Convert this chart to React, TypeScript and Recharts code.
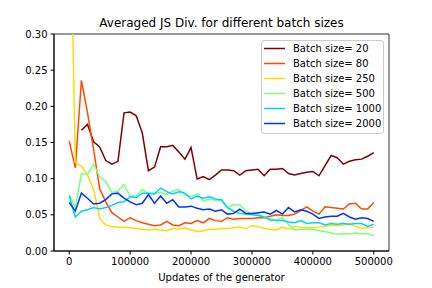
import React from 'react'
import { LineChart, Line, XAxis, YAxis, ReferenceArea, Legend } from 'recharts'

const updates = [
  0, 10000, 20000, 30000, 40000, 50000, 60000, 70000, 80000, 90000,
  100000, 110000, 120000, 130000, 140000, 150000, 160000, 170000, 180000, 190000,
  200000, 210000, 220000, 230000, 240000, 250000, 260000, 270000, 280000, 290000,
  300000, 310000, 320000, 330000, 340000, 350000, 360000, 370000, 380000, 390000,
  400000, 410000, 420000, 430000, 440000, 450000, 460000, 470000, 480000, 490000,
  500000,
]

// batch size 20 has no value for the first two checkpoints
const batch20 = [
  null, null, 0.167, 0.175, 0.151, 0.144, 0.125, 0.12, 0.124, 0.191,
  0.192, 0.187, 0.163, 0.111, 0.116, 0.144, 0.144, 0.146, 0.137, 0.127,
  0.143, 0.0995, 0.103, 0.0986, 0.105, 0.112, 0.112, 0.111, 0.105, 0.111,
  0.112, 0.113, 0.104, 0.113, 0.113, 0.114, 0.107, 0.105, 0.107, 0.109,
  0.11, 0.104, 0.118, 0.132, 0.129, 0.12, 0.124, 0.126, 0.127, 0.131,
  0.136,
]

const batch80 = [
  0.152, 0.115, 0.236, 0.191, 0.14, 0.086, 0.068, 0.053, 0.047, 0.041,
  0.046, 0.042, 0.039, 0.037, 0.035, 0.036, 0.041, 0.036, 0.035, 0.039,
  0.038, 0.042, 0.039, 0.045, 0.042, 0.041, 0.046, 0.044, 0.045, 0.045,
  0.045, 0.046, 0.046, 0.048, 0.05, 0.049, 0.049, 0.051, 0.056, 0.061,
  0.055, 0.051, 0.061, 0.06, 0.059, 0.058, 0.065, 0.066, 0.058, 0.058,
  0.067,
]

const batch250 = [
  0.56, 0.122, 0.117, 0.105, 0.085, 0.045, 0.036, 0.034, 0.033, 0.033,
  0.032, 0.031, 0.03, 0.029, 0.03, 0.029, 0.028, 0.031, 0.03, 0.032,
  0.029, 0.027, 0.028, 0.03, 0.03, 0.031, 0.031, 0.032, 0.033, 0.031,
  0.035, 0.034, 0.031, 0.03, 0.029, 0.033, 0.03, 0.034, 0.033, 0.032,
  0.032, 0.033, 0.034, 0.036, 0.035, 0.036, 0.0375, 0.034, 0.031, 0.032,
  0.033,
]

const batch500 = [
  0.078, 0.06, 0.107, 0.106, 0.12, 0.103, 0.096, 0.081, 0.083, 0.092,
  0.076, 0.076, 0.085, 0.079, 0.08, 0.081, 0.078, 0.083, 0.085, 0.078,
  0.075, 0.079, 0.069, 0.072, 0.07, 0.069, 0.06, 0.064, 0.064, 0.055,
  0.051, 0.051, 0.047, 0.045, 0.043, 0.046, 0.037, 0.029, 0.03, 0.03,
  0.03, 0.028, 0.027, 0.025, 0.023, 0.024, 0.024, 0.025, 0.024, 0.024,
  0.021,
]

const batch1000 = [
  0.076, 0.047, 0.055, 0.057, 0.06, 0.058, 0.06, 0.063, 0.067, 0.068,
  0.075, 0.074, 0.08, 0.08, 0.079, 0.087, 0.082, 0.079, 0.082, 0.08,
  0.072, 0.076, 0.073, 0.075, 0.072, 0.071, 0.06, 0.055, 0.052, 0.051,
  0.05, 0.049, 0.047, 0.043, 0.042, 0.042, 0.04, 0.039, 0.042, 0.038,
  0.039, 0.039, 0.036, 0.038, 0.037, 0.038, 0.037, 0.038, 0.038, 0.034,
  0.037,
]

const batch2000 = [
  0.067, 0.055, 0.08, 0.073, 0.065, 0.066, 0.071, 0.079, 0.08, 0.073,
  0.068, 0.064, 0.066, 0.078, 0.066, 0.076, 0.066, 0.071, 0.061, 0.061,
  0.062, 0.059, 0.057, 0.058, 0.055, 0.057, 0.051, 0.052, 0.058, 0.052,
  0.052, 0.053, 0.054, 0.051, 0.056, 0.051, 0.06, 0.054, 0.057, 0.055,
  0.051, 0.045, 0.047, 0.048, 0.048, 0.052, 0.047, 0.044, 0.046, 0.045,
  0.041,
]

const seriesKeys = ['b20', 'b80', 'b250', 'b500', 'b1000', 'b2000']
const seriesNames = [
  'Batch size= 20',
  'Batch size= 80',
  'Batch size= 250',
  'Batch size= 500',
  'Batch size= 1000',
  'Batch size= 2000',
]
const seriesColors = ['#800000', '#ff4a00', '#ffdc00', '#7dff7a', '#00d2ff', '#0035ff']

const xTicks = [0, 100000, 200000, 300000, 400000, 500000]
const yTicks = [0, 0.05, 0.1, 0.15, 0.2, 0.25, 0.3]

const allSeries = [batch20, batch80, batch250, batch500, batch1000, batch2000]

const data = updates.map((u, i) => {
  const row: Record<string, number | null> = { updates: u }
  seriesKeys.forEach((k, s) => {
    row[k] = allSeries[s][i]
  })
  return row
})

const font = 'DejaVu Sans, sans-serif'

// keep the legend in plotting order (recharts would sort the payload)
function LegendBox() {
  return (
    <div
      style={{
        border: '1px solid #cccccc',
        borderRadius: 3,
        background: 'rgba(255,255,255,0.8)',
        width: 123,
        paddingBottom: 2,
        fontFamily: font,
        fontSize: 10,
        color: '#000',
        boxSizing: 'border-box',
      }}
    >
      {seriesNames.map((name, s) => (
        <div key={name} style={{ height: 15, display: 'flex', alignItems: 'center' }}>
          <svg width={23} height={15} style={{ display: 'block' }}>
            <line x1={2} x2={23} y1={7.5} y2={7.5} stroke={seriesColors[s]} strokeWidth={1.5} />
          </svg>
          <span style={{ marginLeft: 8, whiteSpace: 'nowrap' }}>{name}</span>
        </div>
      ))}
    </div>
  )
}

export default function App() {
  return (
    <div style={{ position: 'absolute', left: 0, top: 0, width: 432, height: 288, background: '#fff', fontFamily: font }}>
      <div
        style={{
          position: 'absolute',
          left: 54,
          width: 335,
          top: 16,
          textAlign: 'center',
          fontSize: 12,
          color: '#000',
        }}
      >
        Averaged JS Div. for different batch sizes
      </div>
      <LineChart
        width={432}
        height={288}
        data={data}
        margin={{ top: 34, right: 43, left: 0, bottom: 0 }}
        style={{ fontFamily: font }}
      >
        <XAxis
          dataKey="updates"
          type="number"
          domain={[-25000, 525000]}
          ticks={xTicks}
          allowDataOverflow
          height={37}
          tickSize={3.5}
          tickMargin={3}
          stroke="#000"
          tick={{ fill: '#000', fontSize: 10 }}
          tickFormatter={(v) => String(v)}
        />
        <YAxis
          type="number"
          domain={[0, 0.3]}
          ticks={yTicks}
          allowDataOverflow
          width={54}
          tickSize={3.5}
          tickMargin={3}
          stroke="#000"
          tick={{ fill: '#000', fontSize: 10 }}
          tickFormatter={(v) => v.toFixed(2)}
        />
        {seriesKeys.map((k, s) => (
          <Line
            key={k}
            type="linear"
            dataKey={k}
            name={seriesNames[s]}
            stroke={seriesColors[s]}
            strokeWidth={1.5}
            dot={false}
            activeDot={false}
            isAnimationActive={false}
          />
        ))}
        <ReferenceArea x1={-25000} x2={525000} y1={0} y2={0.3} fill="none" stroke="#000" strokeWidth={0.8} />
        <Legend
          layout="vertical"
          align="center"
          verticalAlign="middle"
          content={<LegendBox />}
          wrapperStyle={{ position: 'absolute', top: 40, left: 261, width: 123, height: 'auto' }}
        />
      </LineChart>
      <div
        style={{
          position: 'absolute',
          left: 54,
          width: 335,
          top: 272,
          textAlign: 'center',
          fontSize: 10,
          color: '#000',
        }}
      >
        Updates of the generator
      </div>
    </div>
  )
}
